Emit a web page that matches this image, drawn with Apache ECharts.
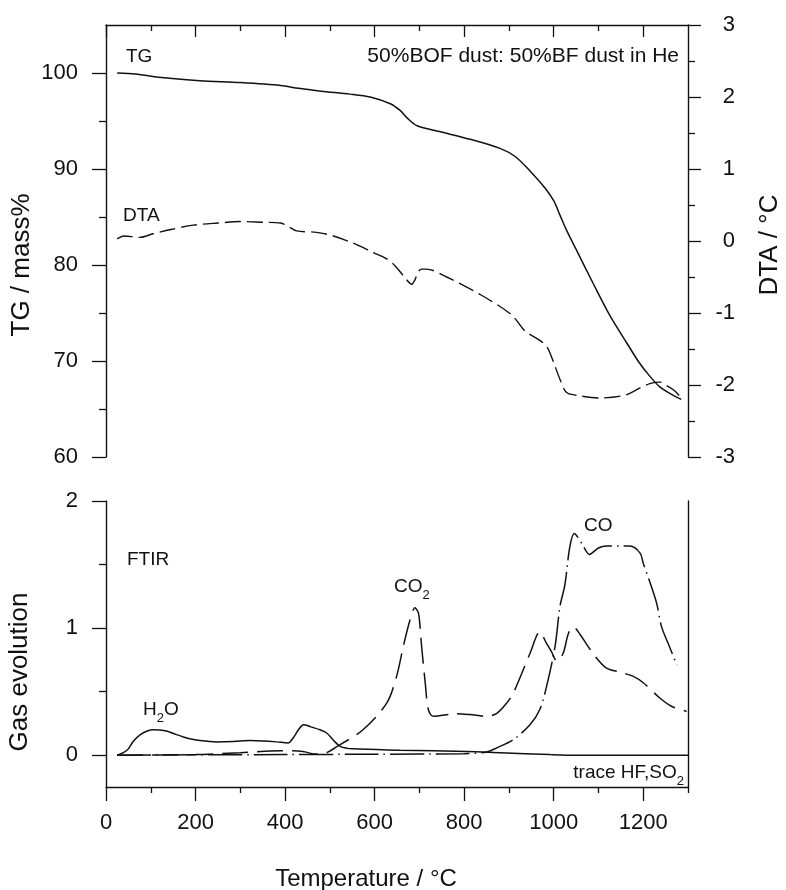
<!DOCTYPE html>
<html>
<head>
<meta charset="utf-8">
<script src="https://cdn.jsdelivr.net/npm/echarts@6/dist/echarts.min.js"></script>
<style>html,body{margin:0;padding:0;background:#fff}#c{width:786px;height:890px}</style>
</head>
<body>
<div id="c"></div>
<script>
// ---- tick values ----
const tempTicks = [0, 200, 400, 600, 800, 1000, 1200];
const tempMinor = [100, 300, 500, 700, 900, 1100];
const tempMinorBottom = [100, 300, 500, 700, 900, 1100, 1300];
const tgTicks = [60, 70, 80, 90, 100];
const tgMinor = [65, 75, 85, 95];
const gasTicks = [0, 1, 2];
const gasMinor = [0.5, 1.5];

// ---- data: [temperature °C, value] ----
const tgData = [[25,100],[65,99.9],[130,99.5],[210,99.2],[300,99.0],[390,98.7],[430,98.4],[480,98.1],[545,97.8],[590,97.5],[635,96.8],[657,96.1],[673,95.3],[695,94.5],[745,93.9],[813,93.1],[880,92.15],[914,91.3],[947,89.8],[981,88.0],[1000,86.7],[1014,85.2],[1030,83.5],[1059,80.8],[1088,78.1],[1126,74.7],[1163,71.9],[1190,69.9],[1215,68.4],[1237,67.3],[1260,66.6],[1285,66.0]];

const dtaData = [[25,0.03],[40,0.07],[75,0.05],[105,0.1],[145,0.16],[195,0.22],[250,0.25],[300,0.27],[350,0.26],[390,0.25],[410,0.19],[426,0.14],[470,0.12],[508,0.07],[552,-0.03],[597,-0.16],[625,-0.24],[645,-0.34],[664,-0.48],[683,-0.6],[690,-0.54],[697,-0.43],[705,-0.39],[716,-0.39],[761,-0.5],[835,-0.74],[905,-1.02],[936,-1.25],[969,-1.38],[985,-1.47],[997,-1.64],[1014,-1.92],[1028,-2.1],[1048,-2.14],[1103,-2.18],[1160,-2.14],[1193,-2.04],[1215,-1.98],[1237,-1.96],[1255,-2.02],[1270,-2.08],[1285,-2.18]];

const h2oData = [[25,0],[39,0.02],[50,0.05],[61,0.11],[76,0.16],[92,0.19],[106,0.2],[120,0.198],[135,0.19],[155,0.165],[173,0.144],[190,0.128],[210,0.115],[247,0.105],[285,0.108],[322,0.115],[350,0.112],[381,0.105],[407,0.097],[418,0.136],[430,0.2],[441,0.24],[448,0.236],[456,0.225],[478,0.2],[493,0.175],[508,0.118],[523,0.07],[552,0.05],[657,0.04],[806,0.03],[880,0.02],[992,0.005],[1048,0],[1300,0]];

const co2Data = [[25,0],[200,0.005],[300,0.02],[390,0.035],[440,0.03],[465,0.01],[482,0.01],[523,0.084],[574,0.2],[627,0.41],[649,0.62],[664,0.855],[679,1.064],[690,1.16],[698,1.117],[705,0.855],[713,0.57],[720,0.36],[731,0.306],[783,0.327],[813,0.32],[850,0.306],[873,0.33],[895,0.41],[910,0.49],[947,0.80],[969,0.97],[984,0.88],[995,0.815],[1007,0.74],[1021,0.80],[1033,0.96],[1044,1.01],[1059,0.95],[1074,0.87],[1092,0.78],[1118,0.685],[1152,0.65],[1178,0.62],[1200,0.57],[1237,0.45],[1263,0.385],[1297,0.345]];

const coData = [[25,0],[200,0.003],[400,0.005],[600,0.008],[800,0.012],[850,0.025],[873,0.058],[910,0.123],[947,0.24],[969,0.36],[984,0.54],[1003,0.855],[1014,1.17],[1025,1.34],[1036,1.64],[1046,1.745],[1063,1.665],[1080,1.58],[1100,1.63],[1118,1.645],[1170,1.645],[1193,1.59],[1200,1.51],[1215,1.36],[1230,1.195],[1241,1.01],[1258,0.86],[1275,0.71]];

const FONT = '"Liberation Sans", Arial, sans-serif';
const INK = '#111';
const plain = function (v) { return String(v); };

function axisLineStyle(show) { return { show: show, onZero: false, lineStyle: { color: INK, width: 1.4 } }; }

const chart = echarts.init(document.getElementById('c'), null, { renderer: 'canvas' });

function xAx(grid, pos, ticks, len, inside, lineShow, labels) {
  return {
    type: 'value', gridIndex: grid, position: pos, min: 0, max: 1300,
    axisLine: axisLineStyle(lineShow),
    axisTick: { show: true, inside: inside, length: len, customValues: ticks, lineStyle: { color: INK, width: 1.3 } },
    axisLabel: labels ? { show: true, customValues: labels, formatter: plain, margin: 25, fontSize: 22, fontFamily: FONT, color: INK } : { show: false },
    splitLine: { show: false }
  };
}
function yAx(grid, pos, min, max, ticks, len, lineShow, labels, margin) {
  return {
    type: 'value', gridIndex: grid, position: pos, min: min, max: max,
    axisLine: axisLineStyle(lineShow),
    axisTick: ticks ? { show: true, inside: false, length: len, customValues: ticks, lineStyle: { color: INK, width: 1.3 } } : { show: false },
    axisLabel: labels ? { show: true, customValues: labels, formatter: plain, margin: margin, fontSize: 22, fontFamily: FONT, color: INK } : { show: false },
    splitLine: { show: false }
  };
}

const lineBase = { type: 'line', showSymbol: false, symbol: 'none', smooth: 0.3, animation: false };

const option = {
  backgroundColor: '#fff',
  animation: false,
  grid: [
    { left: 106, top: 25, width: 582, height: 432, containLabel: false },
    { left: 106, top: 501, width: 582, height: 286, containLabel: false }
  ],
  xAxis: [
    xAx(0, 'top', tempTicks, 12, true, true, null),
    xAx(0, 'top', tempMinor, 6, true, false, null),
    xAx(1, 'bottom', tempTicks, 14, false, true, tempTicks),
    xAx(1, 'bottom', tempMinorBottom, 6, false, false, null)
  ],
  yAxis: [
    yAx(0, 'left', 60, 105, tgTicks, 14, true, tgTicks, 28),
    yAx(0, 'left', 60, 105, tgMinor, 7, false, null, 0),
    {
      type: 'value', gridIndex: 0, position: 'right', min: -3, max: 3, interval: 1,
      axisLine: axisLineStyle(true),
      axisTick: { show: true, inside: false, length: 13, lineStyle: { color: INK, width: 1.3 } },
      minorTick: { show: true, splitNumber: 2, length: 7, lineStyle: { color: INK, width: 1.3 } },
      axisLabel: { show: true, margin: 47, align: 'right', formatter: plain, fontSize: 22, fontFamily: FONT, color: INK },
      splitLine: { show: false }, minorSplitLine: { show: false }
    },
    yAx(1, 'left', -0.25, 2, gasTicks, 14, true, gasTicks, 28),
    yAx(1, 'left', -0.25, 2, gasMinor, 7, false, null, 0),
    yAx(1, 'right', -0.25, 2, null, 0, true, null, 0)
  ],
  series: [
    Object.assign({}, lineBase, { name: 'TG', xAxisIndex: 0, yAxisIndex: 0, data: tgData,
      lineStyle: { color: INK, width: 1.5, type: 'solid' } }),
    Object.assign({}, lineBase, { name: 'DTA', xAxisIndex: 0, yAxisIndex: 2, data: dtaData,
      lineStyle: { color: INK, width: 1.4, type: [16, 6] } }),
    Object.assign({}, lineBase, { name: 'H2O', xAxisIndex: 2, yAxisIndex: 3, data: h2oData,
      lineStyle: { color: INK, width: 1.5, type: 'solid' } }),
    Object.assign({}, lineBase, { name: 'CO2', xAxisIndex: 2, yAxisIndex: 3, data: co2Data,
      lineStyle: { color: INK, width: 1.5, type: [26, 9] } }),
    Object.assign({}, lineBase, { name: 'CO', xAxisIndex: 2, yAxisIndex: 3, data: coData,
      lineStyle: { color: INK, width: 1.5, type: [34, 5, 1.5, 5] } })
  ],
  graphic: [
    { type: 'text', x: 126, y: 56.5, style: { text: 'TG', fontSize: 19, fontFamily: FONT, fill: INK, align: 'left', verticalAlign: 'middle' } },
    { type: 'text', x: 679, y: 56, style: { text: '50%BOF dust: 50%BF dust in He', fontSize: 21, fontFamily: FONT, fill: INK, align: 'right', verticalAlign: 'middle' } },
    { type: 'text', x: 123, y: 216, style: { text: 'DTA', fontSize: 19, fontFamily: FONT, fill: INK, align: 'left', verticalAlign: 'middle' } },
    { type: 'text', x: 127, y: 560, style: { text: 'FTIR', fontSize: 19, fontFamily: FONT, fill: INK, align: 'left', verticalAlign: 'middle' } },
    { type: 'text', x: 143, y: 700.5, style: { text: '{m|H}{s|2}{m|O}', fontFamily: FONT, fill: INK, align: 'left', verticalAlign: 'top',
      rich: { m: { fontSize: 19, lineHeight: 20, verticalAlign: 'top', fontFamily: FONT, fill: INK }, s: { fontSize: 13, lineHeight: 36, fontFamily: FONT, fill: INK } } } },
    { type: 'text', x: 394, y: 577, style: { text: '{m|CO}{s|2}', fontFamily: FONT, fill: INK, align: 'left', verticalAlign: 'top',
      rich: { m: { fontSize: 19, lineHeight: 20, verticalAlign: 'top', fontFamily: FONT, fill: INK }, s: { fontSize: 13, lineHeight: 36, fontFamily: FONT, fill: INK } } } },
    { type: 'text', x: 584, y: 526, style: { text: 'CO', fontSize: 19, fontFamily: FONT, fill: INK, align: 'left', verticalAlign: 'middle' } },
    { type: 'text', x: 684, y: 763, style: { text: '{m|trace HF,SO}{s|2}', fontFamily: FONT, fill: INK, align: 'right', verticalAlign: 'top',
      rich: { m: { fontSize: 19, lineHeight: 20, verticalAlign: 'top', fontFamily: FONT, fill: INK }, s: { fontSize: 13, lineHeight: 36, fontFamily: FONT, fill: INK } } } },
    { type: 'text', x: 22, y: 265, rotation: Math.PI / 2, style: { text: 'TG / mass%', fontSize: 26, fontFamily: FONT, fill: INK, align: 'center', verticalAlign: 'middle' } },
    { type: 'text', x: 770, y: 245, rotation: Math.PI / 2, style: { text: 'DTA / °C', fontSize: 26, fontFamily: FONT, fill: INK, align: 'center', verticalAlign: 'middle' } },
    { type: 'text', x: 20, y: 672, rotation: Math.PI / 2, style: { text: 'Gas evolution', fontSize: 26, fontFamily: FONT, fill: INK, align: 'center', verticalAlign: 'middle' } },
    { type: 'text', x: 366, y: 879, style: { text: 'Temperature / °C', fontSize: 24, fontFamily: FONT, fill: INK, align: 'center', verticalAlign: 'middle' } }
  ]
};
chart.setOption(option);
</script>
</body>
</html>
